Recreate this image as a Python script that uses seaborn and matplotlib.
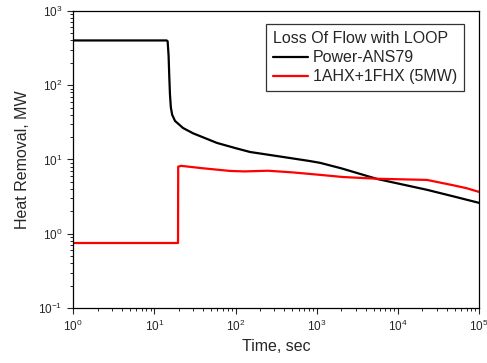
import numpy as np
import pandas as pd
import seaborn as sns
import matplotlib.pyplot as plt

# --- datos ---
t_power = [1, 14.2, 14.6, 15.0, 15.3, 15.6, 16.0, 16.6, 18, 22.6, 30, 59, 100, 151,
           385, 830, 1100, 2000, 5540, 22800, 50000, 100000]
q_power = [400, 400, 390, 250, 130, 75, 50, 40, 33, 26.5, 22.5, 16.7, 14.2, 12.6,
           10.8, 9.5, 9.0, 7.6, 5.46, 3.9, 3.15, 2.6]

t_hx = [1, 19.6, 19.7, 21.4, 40, 86, 130, 250, 500, 1100, 2110, 5540, 22800, 47500, 70000, 100000]
q_hx = [0.75, 0.75, 8.0, 8.2, 7.6, 7.0, 6.9, 7.05, 6.7, 6.2, 5.8, 5.5, 5.3, 4.5, 4.1, 3.65]

series_names = ["Power-ANS79", "1AHX+1FHX (5MW)"]
legend_title = "Loss Of Flow with LOOP"

df = pd.concat([
    pd.DataFrame({"t": t_power, "q": q_power, "serie": series_names[0]}),
    pd.DataFrame({"t": t_hx, "q": q_hx, "serie": series_names[1]}),
], ignore_index=True)

sns.set_style("ticks")
plt.rcParams["font.family"] = ["Liberation Sans", "DejaVu Sans"]
plt.rcParams["mathtext.fontset"] = "custom"
plt.rcParams["mathtext.rm"] = "Liberation Sans"

fig = plt.figure(figsize=(4.87, 3.63), dpi=100)
ax = fig.add_axes([0.150, 0.1515, 0.834, 0.8185])

sns.lineplot(data=df, x="t", y="q", hue="serie", palette=["black", "#ff0000"],
             sort=False, estimator=None, linewidth=1.6, ax=ax)

ax.set_xscale("log")
ax.set_yscale("log")
ax.set_xlim(1, 1e5)
ax.set_ylim(0.1, 1000)
ax.set_xlabel("Time, sec", fontsize=11.5, labelpad=4)
ax.set_ylabel("Heat Removal, MW", fontsize=11.5, labelpad=6)

ax.tick_params(axis="both", which="major", direction="out", length=4, width=0.8,
               labelsize=8.5, top=False, right=False)
ax.tick_params(axis="both", which="minor", direction="out", length=2.2, width=0.7,
               top=False, right=False)
for s in ax.spines.values():
    s.set_color("black")
    s.set_linewidth(0.9)

handles, labels = ax.get_legend_handles_labels()
leg = ax.legend(handles, labels, title=legend_title, loc="upper right",
                bbox_to_anchor=(0.963, 0.956), borderaxespad=0, fontsize=11.5,
                title_fontsize=11.5, alignment="left", frameon=True, fancybox=False,
                edgecolor="black", labelspacing=0.25, borderpad=0.45,
                handlelength=2.2, handletextpad=0.3)
leg.get_frame().set_linewidth(0.9)

fig.savefig("out.png", dpi=100)
